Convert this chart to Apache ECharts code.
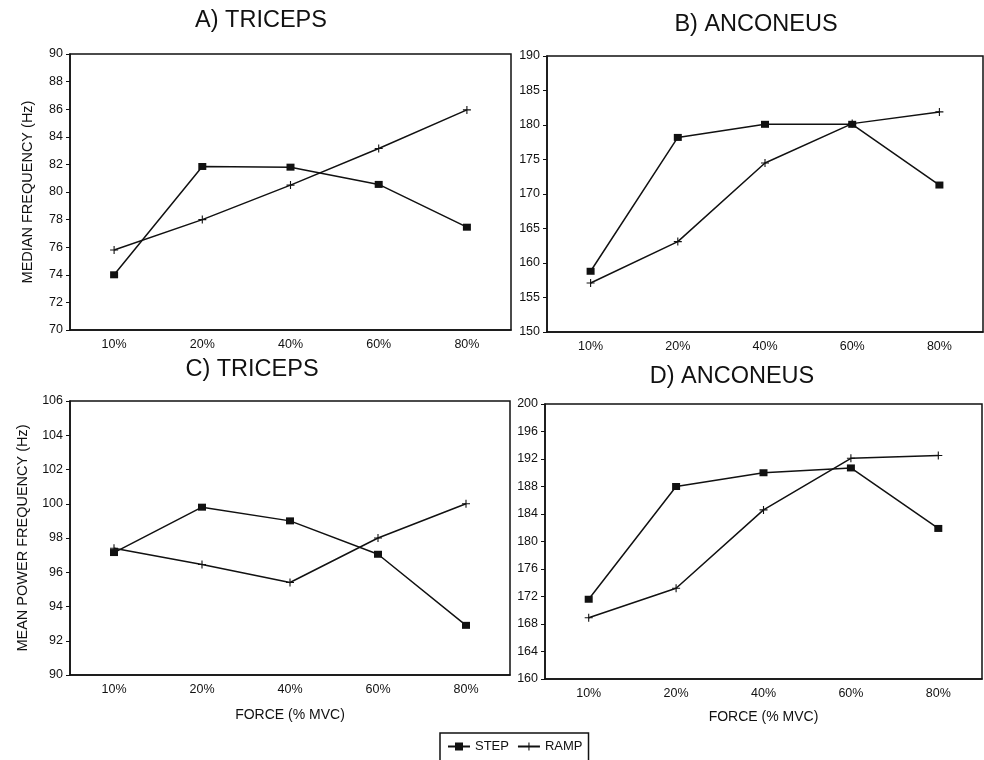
<!DOCTYPE html>
<html>
<head>
<meta charset="utf-8">
<title>Median and mean power frequency vs force</title>
<script src="https://cdn.jsdelivr.net/npm/echarts@6/dist/echarts.min.js"></script>
<style>
  html, body { margin: 0; padding: 0; background: #fff; }
  #chart { width: 984px; height: 760px; }
</style>
</head>
<body>
<div id="chart"></div>
<script>
// Force levels (% MVC)
const forceLevels = ['10%', '20%', '40%', '60%', '80%'];

// A) Triceps – median frequency (Hz)
const tricepsMedianStep = [74.0, 81.85, 81.8, 80.55, 77.45];
const tricepsMedianRamp = [75.8, 78.0, 80.5, 83.15, 85.95];

// B) Anconeus – median frequency (Hz)
const anconeusMedianStep = [158.8, 178.2, 180.1, 180.1, 171.3];
const anconeusMedianRamp = [157.1, 163.1, 174.5, 180.2, 181.9];

// C) Triceps – mean power frequency (Hz)
const tricepsMeanStep = [97.15, 99.8, 99.0, 97.05, 92.9];
const tricepsMeanRamp = [97.4, 96.45, 95.4, 98.0, 100.0];

// D) Anconeus – mean power frequency (Hz)
const anconeusMeanStep = [171.6, 188.0, 190.0, 190.7, 181.9];
const anconeusMeanRamp = [168.9, 173.2, 184.6, 192.1, 192.5];

// Panel titles and axis names
const panelTitles = ['A) TRICEPS', 'B) ANCONEUS', 'C) TRICEPS', 'D) ANCONEUS'];
const yNameTop = 'MEDIAN FREQUENCY (Hz)';
const yNameBottom = 'MEAN POWER FREQUENCY (Hz)';
const xName = 'FORCE (% MVC)';

const INK = '#111';
const FONT = '"Liberation Sans", Arial, Helvetica, sans-serif';
const PLUS = 'path://M0,3.45H8V4.55H0Z M3.45,0H4.55V8H3.45Z';

const chart = echarts.init(document.getElementById('chart'), null, { renderer: 'canvas' });

const grids = [
  { left: 70,  top: 54,  width: 441, height: 276 },
  { left: 547, top: 56,  width: 436, height: 276 },
  { left: 70,  top: 401, width: 440, height: 274 },
  { left: 545, top: 404, width: 437, height: 275 }
].map(g => Object.assign({ show: true, borderColor: INK, borderWidth: 1.5, backgroundColor: '#fff' }, g));

function xAxisFor(i, withName, gap) {
  return {
    type: 'category', gridIndex: i, data: forceLevels, boundaryGap: true,
    axisLine: { lineStyle: { color: INK, width: 1.5 } },
    axisTick: { alignWithLabel: true, length: 3, lineStyle: { color: INK } },
    axisLabel: { color: INK, fontSize: 12.5, fontFamily: FONT, margin: 8 },
    splitLine: { show: false },
    name: withName ? xName : '', nameLocation: 'middle', nameGap: gap,
    nameTextStyle: { color: INK, fontSize: 14, fontFamily: FONT }
  };
}

function yAxisFor(i, min, max, step, name, gap) {
  return {
    type: 'value', gridIndex: i, min: min, max: max, interval: step,
    axisLine: { show: true, lineStyle: { color: INK, width: 1.5 } },
    axisTick: { show: true, length: 4, lineStyle: { color: INK } },
    axisLabel: { color: INK, fontSize: 12.5, fontFamily: FONT, margin: 7 },
    splitLine: { show: false },
    name: name, nameLocation: 'middle', nameGap: gap,
    nameTextStyle: { color: INK, fontSize: 14.5, fontFamily: FONT }
  };
}

function stepSeries(i, data) {
  return {
    name: 'STEP', type: 'line', xAxisIndex: i, yAxisIndex: i, data: data,
    symbol: 'rect', symbolSize: [8, 7], showAllSymbol: true,
    lineStyle: { color: INK, width: 1.5 }, itemStyle: { color: INK },
    animation: false, z: 3
  };
}

function rampSeries(i, data) {
  return {
    name: 'RAMP', type: 'line', xAxisIndex: i, yAxisIndex: i, data: data,
    symbol: PLUS, symbolSize: 8, showAllSymbol: true,
    lineStyle: { color: INK, width: 1.5 }, itemStyle: { color: INK },
    animation: false, z: 2
  };
}

const titlePos = [[261, 21], [756, 25], [252, 370], [732, 377]];

const option = {
  backgroundColor: '#fff',
  animation: false,
  textStyle: { fontFamily: FONT },
  grid: grids,
  xAxis: [xAxisFor(0, false, 0), xAxisFor(1, false, 0), xAxisFor(2, true, 33), xAxisFor(3, true, 31)],
  yAxis: [
    yAxisFor(0, 70, 90, 2, yNameTop, 35),
    yAxisFor(1, 150, 190, 5, '', 0),
    yAxisFor(2, 90, 106, 2, yNameBottom, 40),
    yAxisFor(3, 160, 200, 4, '', 0)
  ],
  legend: {
    data: ['STEP', 'RAMP'],
    left: 440, top: 733,
    padding: [7, 6, 20, 7],
    itemGap: 8, itemWidth: 22, itemHeight: 10,
    borderColor: INK, borderWidth: 1.5, backgroundColor: '#fff',
    textStyle: { color: INK, fontSize: 13, fontFamily: FONT },
    inactiveColor: INK
  },
  graphic: panelTitles.map((t, k) => ({
    type: 'text', x: titlePos[k][0], y: titlePos[k][1],
    style: {
      text: t, fill: INK, font: '23.5px ' + FONT,
      align: 'center', verticalAlign: 'middle',
      textAlign: 'center', textVerticalAlign: 'middle'
    }
  })),
  series: [
    stepSeries(0, tricepsMedianStep), rampSeries(0, tricepsMedianRamp),
    stepSeries(1, anconeusMedianStep), rampSeries(1, anconeusMedianRamp),
    stepSeries(2, tricepsMeanStep), rampSeries(2, tricepsMeanRamp),
    stepSeries(3, anconeusMeanStep), rampSeries(3, anconeusMeanRamp)
  ]
};

chart.setOption(option);
</script>
</body>
</html>
